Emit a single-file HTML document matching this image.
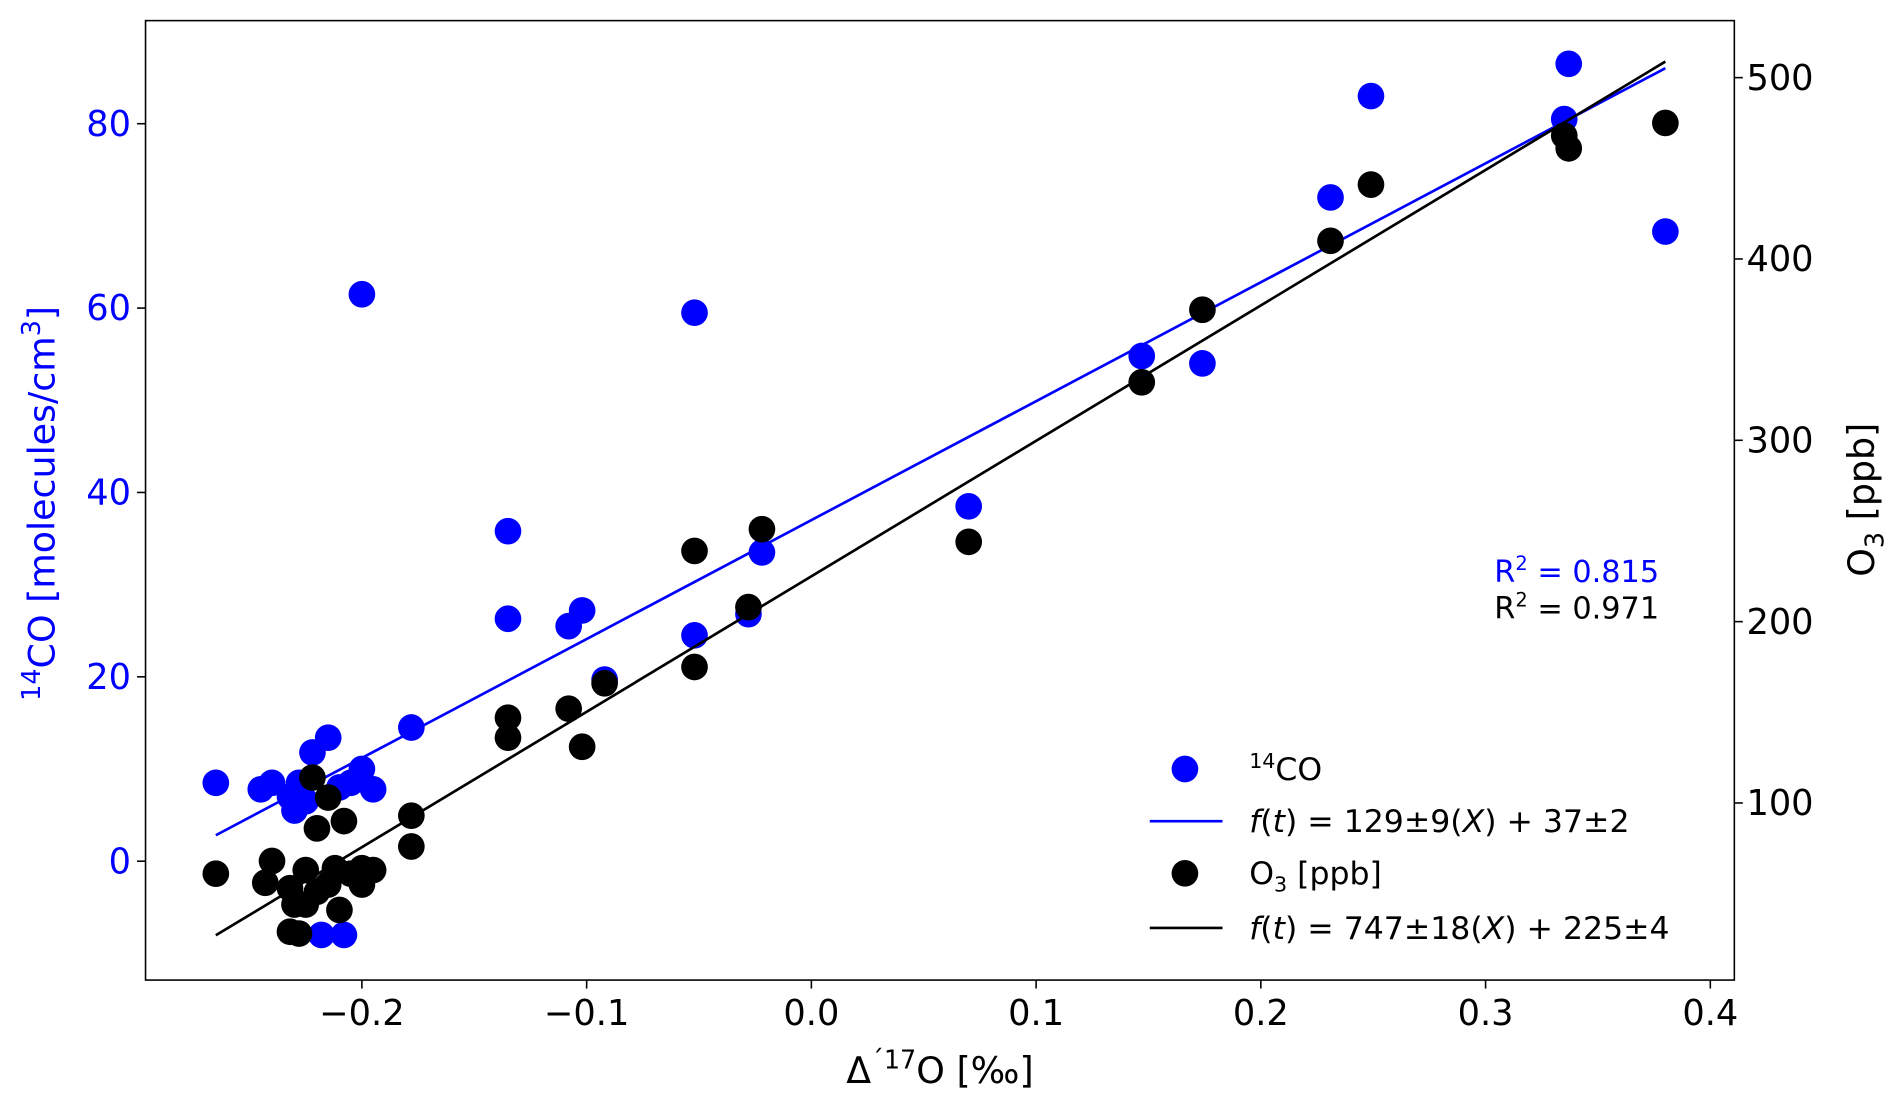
<!DOCTYPE html>
<html><head><meta charset="utf-8"><style>
html,body{margin:0;padding:0;background:#fff;}
svg{display:block;font-family:"DejaVu Sans","Liberation Sans",sans-serif;}
</style></head><body>
<svg id="chart" width="1892" height="1105" viewBox="0 0 1560 911" preserveAspectRatio="none" xmlns="http://www.w3.org/2000/svg">
<rect x="0" y="0" width="1560" height="911" fill="#fff"/>
<g id="marks"></g>
<rect x="120" y="17" width="1310" height="791" fill="none" stroke="#000" stroke-width="1.3"/>
<g id="axes"></g>
<text x="775" y="893" font-size="30" text-anchor="middle">Δ<tspan font-size="21" dy="-12">´17</tspan><tspan dy="12">O [‰]</tspan></text>
<text transform="translate(45,415) rotate(-90)" font-size="30" text-anchor="middle" fill="#0000ff"><tspan font-size="21" dy="-12">14</tspan><tspan dy="12">CO [molecules/cm</tspan><tspan font-size="21" dy="-12">3</tspan><tspan dy="12">]</tspan></text>
<text transform="translate(1545,412) rotate(-90)" font-size="30" text-anchor="middle">O<tspan font-size="21" dy="8">3</tspan><tspan dy="-8"> [ppb]</tspan></text>
<text x="1368" y="480" font-size="25" text-anchor="end" fill="#0000ff">R<tspan font-size="16" dy="-10">2</tspan><tspan dy="10"> = 0.815</tspan></text>
<text x="1368" y="510" font-size="25" text-anchor="end">R<tspan font-size="16" dy="-10">2</tspan><tspan dy="10"> = 0.971</tspan></text>
<g font-size="26">
<circle cx="977" cy="634" r="11" fill="#0000ff"/>
<text x="1030" y="643"><tspan font-size="17" dy="-10">14</tspan><tspan dy="10">CO</tspan></text>
<line x1="948" y1="677" x2="1008" y2="677" stroke="#0000ff" stroke-width="2.2"/>
<text x="1030" y="686"><tspan font-style="italic">f</tspan>(<tspan font-style="italic">t</tspan>) = 129±9(<tspan font-style="italic">X</tspan>) + 37±2</text>
<circle cx="977" cy="720" r="11" fill="#000"/>
<text x="1030" y="729">O<tspan font-size="17" dy="6">3</tspan><tspan dy="-6"> [ppb]</tspan></text>
<line x1="948" y1="765" x2="1008" y2="765" stroke="#000" stroke-width="2.2"/>
<text x="1030" y="774"><tspan font-style="italic">f</tspan>(<tspan font-style="italic">t</tspan>) = 747±18(<tspan font-style="italic">X</tspan>) + 225±4</text>
</g>
</svg>
<script>
const xTicks = [-0.2,-0.1,0.0,0.1,0.2,0.3,0.4];
const xTickLabels = ["−0.2","−0.1","0.0","0.1","0.2","0.3","0.4"];
const leftTicks = [0,20,40,60,80];
const rightTicks = [100,200,300,400,500];
const co14X = [-0.265,-0.245,-0.24,-0.232,-0.228,-0.23,-0.225,-0.222,-0.215,-0.21,-0.205,-0.2,-0.195,-0.218,-0.208,-0.2,-0.178,-0.135,-0.135,-0.108,-0.102,-0.092,-0.052,-0.052,-0.028,-0.022,0.07,0.147,0.174,0.231,0.249,0.335,0.337,0.38];
const co14Y = [8.5,7.8,8.5,7,8.5,5.5,6.5,11.8,13.4,8,8.5,10,7.8,-8,-8,61.5,14.5,35.8,26.3,25.5,27.2,19.7,59.5,24.5,26.8,33.5,38.5,54.8,54,72,83,80.5,86.5,68.3];
const o3X = [-0.265,-0.243,-0.24,-0.222,-0.22,-0.215,-0.208,-0.23,-0.232,-0.228,-0.225,-0.22,-0.215,-0.21,-0.205,-0.2,-0.2,-0.195,-0.212,-0.232,-0.225,-0.178,-0.178,-0.135,-0.135,-0.108,-0.102,-0.092,-0.052,-0.052,-0.028,-0.022,0.07,0.147,0.174,0.231,0.249,0.335,0.337,0.38];
const o3Y = [61,56,68,114,86,103,90,44,29,28,63,51,55,41,61,64,55,63,64,53,44,93,76,147,136,152,131,166,239,175,208,251,244,332,372,410,441,468,461,475];
const co14Fit = [129,37];
const o3Fit = [747,225];
const fitRange = [-0.265,0.38];

const NS="http://www.w3.org/2000/svg";
const X = v => 669 + v*1853;
const YL = v => 710 - v*7.6;
const YR = v => 64 + (500 - v)*1.495;
const marks=document.getElementById('marks'), axes=document.getElementById('axes');
function mk(tag, attrs, parent){const e=document.createElementNS(NS,tag);for(const k in attrs)e.setAttribute(k,attrs[k]);parent.appendChild(e);return e;}

co14X.forEach((x,i)=>{
  const c=mk('circle',{cx:X(x),cy:YL(co14Y[i]),r:11,fill:'#0000ff'},marks);
  
  
});
let l=mk('line',{x1:X(fitRange[0]),y1:YL(co14Fit[0]*fitRange[0]+co14Fit[1]),x2:X(fitRange[1]),y2:YL(co14Fit[0]*fitRange[1]+co14Fit[1]),stroke:'#0000ff','stroke-width':2.2},marks);


o3X.forEach((x,i)=>{
  const c=mk('circle',{cx:X(x),cy:YR(o3Y[i]),r:11,fill:'#000'},marks);
  
  
});
l=mk('line',{x1:X(fitRange[0]),y1:YR(o3Fit[0]*fitRange[0]+o3Fit[1]),x2:X(fitRange[1]),y2:YR(o3Fit[0]*fitRange[1]+o3Fit[1]),stroke:'#000','stroke-width':2.2},marks);



xTicks.forEach((t,i)=>{
  const tk=mk('line',{x1:X(t),y1:808,x2:X(t),y2:815,stroke:'#000','stroke-width':1.3},axes);
  
  
  const tx=mk('text',{x:X(t),y:845,'font-size':29,'text-anchor':'middle'},axes);
  tx.textContent=xTickLabels[i];
  
  
});
leftTicks.forEach(t=>{
  const tk=mk('line',{x1:113,y1:YL(t),x2:120,y2:YL(t),stroke:'#000','stroke-width':1.3},axes);
  
  
  const tx=mk('text',{x:108,y:YL(t)+10,'font-size':29,'text-anchor':'end',fill:'#0000ff'},axes);
  tx.textContent=String(t);
  
  
});
rightTicks.forEach(t=>{
  const tk=mk('line',{x1:1430,y1:YR(t),x2:1437,y2:YR(t),stroke:'#000','stroke-width':1.3},axes);
  
  
  const tx=mk('text',{x:1440,y:YR(t)+10,'font-size':29,'text-anchor':'start'},axes);
  tx.textContent=String(t);
  
  
});
</script>
</body></html>
